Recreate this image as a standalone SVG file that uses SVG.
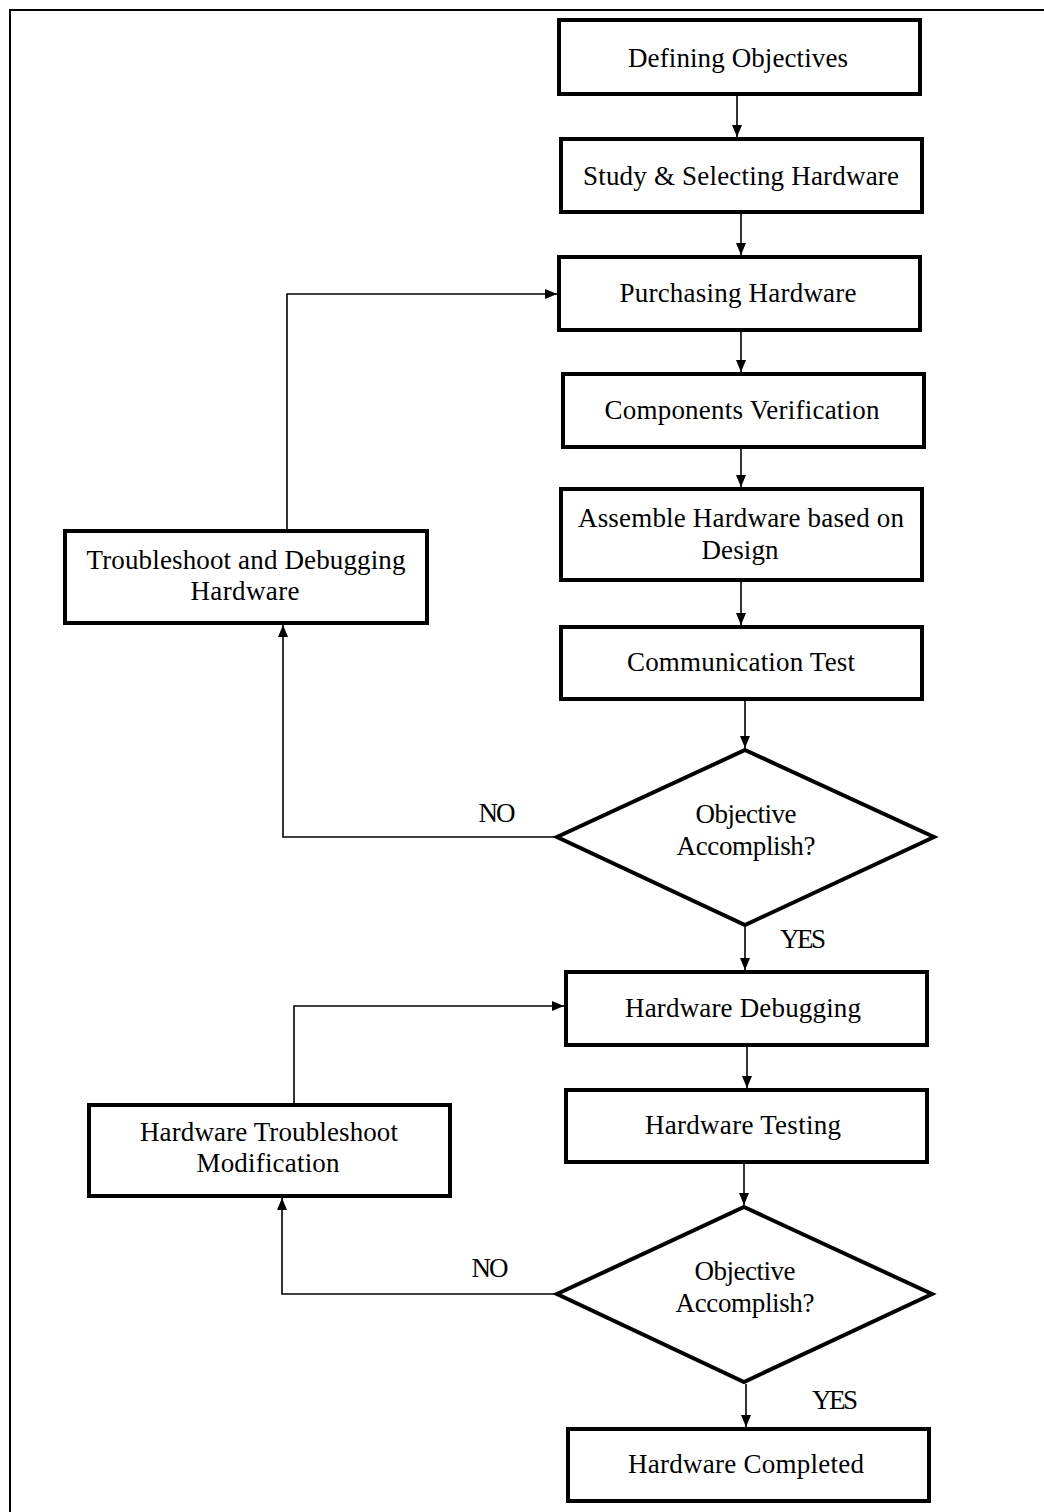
<svg xmlns="http://www.w3.org/2000/svg" width="1044" height="1512" viewBox="0 0 1044 1512">
  <style>
    .box { fill: #fff; stroke: #000; stroke-width: 4; }
    .dec { fill: #fff; stroke: #000; stroke-width: 4; stroke-linejoin: miter; }
    .lbl { font-family: "Liberation Serif", "Times New Roman", serif; font-size: 27px; fill: #000; text-anchor: middle; }
    .edge { fill: none; stroke: #000; stroke-width: 1.6; }
    .frame { fill: none; stroke: #000; stroke-width: 2; }
  </style>
  <defs>
    <marker id="arrow" markerUnits="userSpaceOnUse" markerWidth="13" markerHeight="11" refX="12" refY="5" orient="auto">
      <path d="M0,0 L12,5 L0,10 z" fill="#000"/>
    </marker>
  </defs>

  <rect width="1044" height="1512" fill="#fff"/>
  <!-- page frame (open to the right and bottom) -->
  <path class="frame" d="M10,1512 V10 H1044"/>

  <g id="connectors">
    <line class="edge" x1="737" y1="96" x2="737" y2="137" marker-end="url(#arrow)"/>
    <line class="edge" x1="741" y1="214" x2="741" y2="255" marker-end="url(#arrow)"/>
    <line class="edge" x1="741" y1="332" x2="741" y2="372" marker-end="url(#arrow)"/>
    <line class="edge" x1="741" y1="449" x2="741" y2="487" marker-end="url(#arrow)"/>
    <line class="edge" x1="741" y1="582" x2="741" y2="625" marker-end="url(#arrow)"/>
    <line class="edge" x1="745" y1="701" x2="745" y2="748" marker-end="url(#arrow)"/>
    <line class="edge" x1="745" y1="927" x2="745" y2="970" marker-end="url(#arrow)"/>
    <line class="edge" x1="747" y1="1047" x2="747" y2="1088" marker-end="url(#arrow)"/>
    <line class="edge" x1="744" y1="1164" x2="744" y2="1205" marker-end="url(#arrow)"/>
    <line class="edge" x1="746" y1="1384" x2="746" y2="1427" marker-end="url(#arrow)"/>
    <!-- NO branch of the first decision, loop back to purchasing -->
    <polyline class="edge" points="555,837 283,837 283,625" marker-end="url(#arrow)"/>
    <polyline class="edge" points="287,529 287,294 557,294" marker-end="url(#arrow)"/>
    <!-- NO branch of the second decision, loop back to debugging -->
    <polyline class="edge" points="555,1294 282,1294 282,1198" marker-end="url(#arrow)"/>
    <polyline class="edge" points="294,1103 294,1006 564,1006" marker-end="url(#arrow)"/>
    <text class="lbl" x="497" y="822" textLength="37">NO</text>
    <text class="lbl" x="803" y="948" textLength="46">YES</text>
    <text class="lbl" x="490" y="1277" textLength="37">NO</text>
    <text class="lbl" x="835" y="1409" textLength="46">YES</text>
  </g>

  <g id="n-define">
    <rect class="box" x="559" y="20" width="361" height="74"/>
    <text class="lbl" x="738" y="67" textLength="220">Defining Objectives</text>
  </g>
  <g id="n-study">
    <rect class="box" x="561" y="139" width="361" height="73"/>
    <text class="lbl" x="741" y="185" textLength="316">Study &amp; Selecting Hardware</text>
  </g>
  <g id="n-purchase">
    <rect class="box" x="559" y="257" width="361" height="73"/>
    <text class="lbl" x="738" y="302" textLength="237">Purchasing Hardware</text>
  </g>
  <g id="n-verify">
    <rect class="box" x="563" y="374" width="361" height="73"/>
    <text class="lbl" x="742" y="419" textLength="275">Components Verification</text>
  </g>
  <g id="n-assemble">
    <rect class="box" x="561" y="489" width="361" height="91"/>
    <text class="lbl" x="741" y="527" textLength="326">Assemble Hardware based on</text>
    <text class="lbl" x="740" y="559" textLength="77">Design</text>
  </g>
  <g id="n-comm">
    <rect class="box" x="561" y="627" width="361" height="72"/>
    <text class="lbl" x="741" y="671" textLength="228">Communication Test</text>
  </g>
  <g id="n-decide1">
    <polygon class="dec" points="745,750 934,837 745,925 557,837"/>
    <text class="lbl" x="746" y="823" textLength="101">Objective</text>
    <text class="lbl" x="746" y="855" textLength="139">Accomplish?</text>
  </g>
  <g id="n-troubleshoot">
    <rect class="box" x="65" y="531" width="362" height="92"/>
    <text class="lbl" x="246" y="569" textLength="319">Troubleshoot and Debugging</text>
    <text class="lbl" x="245" y="600" textLength="109">Hardware</text>
  </g>
  <g id="n-debug">
    <rect class="box" x="566" y="972" width="361" height="73"/>
    <text class="lbl" x="743" y="1017" textLength="236">Hardware Debugging</text>
  </g>
  <g id="n-test">
    <rect class="box" x="566" y="1090" width="361" height="72"/>
    <text class="lbl" x="743" y="1134" textLength="196">Hardware Testing</text>
  </g>
  <g id="n-decide2">
    <polygon class="dec" points="744,1207 932,1294 744,1382 557,1294"/>
    <text class="lbl" x="745" y="1280" textLength="101">Objective</text>
    <text class="lbl" x="745" y="1312" textLength="139">Accomplish?</text>
  </g>
  <g id="n-modify">
    <rect class="box" x="89" y="1105" width="361" height="91"/>
    <text class="lbl" x="269" y="1141" textLength="258">Hardware Troubleshoot</text>
    <text class="lbl" x="268" y="1172" textLength="143">Modification</text>
  </g>
  <g id="n-complete">
    <rect class="box" x="568" y="1429" width="361" height="72"/>
    <text class="lbl" x="746" y="1473" textLength="236">Hardware Completed</text>
  </g>
</svg>
